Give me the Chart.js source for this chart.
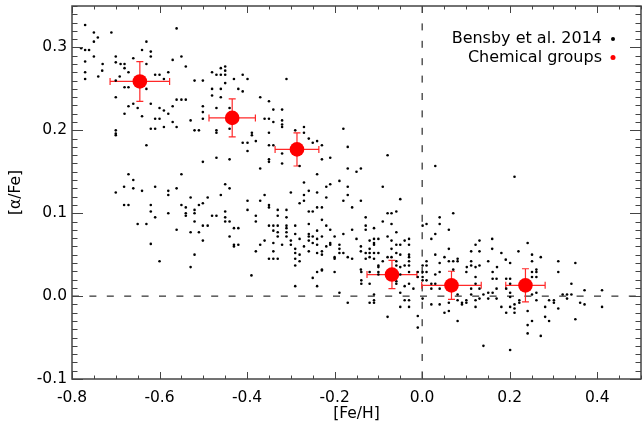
<!DOCTYPE html>
<html>
<head>
<meta charset="utf-8">
<script src="https://cdn.jsdelivr.net/npm/chart.js@4/dist/chart.umd.min.js"></script>
<style>
  body { margin: 0; background: #fff; }
  canvas { display: block; }
</style>
</head>
<body>
<canvas id="alphaChart" width="642" height="426"></canvas>
<script>
// axis ticks
const xTicks = [-0.8, -0.6, -0.4, -0.2, 0.0, 0.2, 0.4];
const yTicks = [-0.1, 0.0, 0.1, 0.2, 0.3];

// chemical groups (red) with errors
const groupFeH = [-0.645, -0.434, -0.286, -0.069, 0.067, 0.236];
const groupAlpha = [0.259, 0.215, 0.177, 0.026, 0.013, 0.013];
const groupFeHErr = [0.068, 0.053, 0.050, 0.057, 0.068, 0.045];
const groupAlphaErr = [0.024, 0.023, 0.020, 0.017, 0.017, 0.020];

// Bensby et al. 2014 stars, [Fe/H], [alpha/Fe]
const bensby = [
  [-0.770,0.327],[-0.750,0.318],[-0.741,0.312],[-0.750,0.307],[-0.710,0.318],[-0.779,0.299],[-0.770,0.297],[-0.761,0.297],
  [-0.750,0.289],[-0.770,0.283],[-0.730,0.280],[-0.731,0.272],[-0.770,0.270],[-0.740,0.265],[-0.770,0.262],[-0.700,0.289],
  [-0.700,0.282],[-0.689,0.280],[-0.680,0.280],[-0.680,0.275],[-0.671,0.270],[-0.691,0.265],[-0.700,0.260],[-0.680,0.252],
  [-0.671,0.252],[-0.700,0.240],[-0.660,0.287],[-0.640,0.297],[-0.630,0.307],[-0.620,0.295],[-0.620,0.289],[-0.630,0.280],
  [-0.610,0.267],[-0.600,0.267],[-0.590,0.262],[-0.580,0.270],[-0.570,0.285],[-0.561,0.323],[-0.630,0.250],[-0.620,0.232],
  [-0.660,0.232],[-0.671,0.229],[-0.650,0.227],[-0.680,0.220],[-0.640,0.217],[-0.600,0.227],[-0.590,0.224],[-0.610,0.214],
  [-0.600,0.214],[-0.570,0.229],[-0.561,0.237],[-0.580,0.220],[-0.570,0.210],[-0.590,0.204],[-0.620,0.202],[-0.610,0.202],
  [-0.561,0.204],[-0.700,0.200],[-0.700,0.196],
  [-0.550,0.289],[-0.540,0.277],[-0.520,0.260],[-0.501,0.260],[-0.480,0.270],[-0.470,0.267],[-0.460,0.275],[-0.460,0.267],
  [-0.450,0.277],[-0.450,0.272],[-0.450,0.267],[-0.450,0.257],[-0.430,0.262],[-0.410,0.267],[-0.399,0.262],[-0.310,0.262],
  [-0.480,0.250],[-0.460,0.250],[-0.480,0.242],[-0.460,0.240],[-0.420,0.250],[-0.410,0.247],[-0.370,0.240],[-0.550,0.237],
  [-0.540,0.237],[-0.501,0.229],[-0.470,0.227],[-0.440,0.227],[-0.501,0.222],[-0.501,0.214],[-0.529,0.212],[-0.350,0.235],
  [-0.340,0.225],[-0.320,0.225],[-0.360,0.214],[-0.350,0.214],[-0.340,0.210],[-0.320,0.212],[-0.320,0.207],[-0.320,0.204],
  [-0.520,0.200],[-0.510,0.200],[-0.470,0.200],[-0.470,0.197],[-0.440,0.202],[-0.389,0.197],[-0.350,0.197],[-0.270,0.204],
  [-0.270,0.197],[-0.290,0.200],[-0.180,0.202],
  [-0.700,0.194],[-0.630,0.182],[-0.671,0.147],[-0.660,0.140],[-0.681,0.132],[-0.660,0.130],[-0.700,0.125],[-0.640,0.127],
  [-0.610,0.132],[-0.580,0.127],[-0.580,0.122],[-0.561,0.130],[-0.681,0.110],[-0.671,0.110],[-0.620,0.110],[-0.620,0.102],
  [-0.610,0.095],[-0.580,0.100],[-0.650,0.087],[-0.630,0.087],[-0.561,0.080],[-0.620,0.063],[-0.600,0.042],
  [-0.550,0.147],[-0.501,0.162],[-0.470,0.167],[-0.440,0.165],[-0.410,0.185],[-0.399,0.185],[-0.380,0.187],[-0.399,0.175],
  [-0.389,0.194],[-0.350,0.182],[-0.340,0.182],[-0.320,0.172],[-0.350,0.165],[-0.350,0.162],[-0.370,0.154],[-0.320,0.160],
  [-0.280,0.157],[-0.259,0.190],[-0.250,0.185],[-0.240,0.187],[-0.229,0.182],[-0.229,0.165],[-0.240,0.147],[-0.270,0.137],
  [-0.219,0.132],[-0.259,0.127],[-0.240,0.125],[-0.219,0.119],[-0.270,0.122],[-0.300,0.125],[-0.270,0.115],[-0.280,0.112],
  [-0.450,0.135],[-0.440,0.130],[-0.460,0.122],[-0.490,0.119],[-0.529,0.119],[-0.550,0.110],[-0.540,0.107],[-0.540,0.100],
  [-0.540,0.097],[-0.520,0.104],[-0.510,0.110],[-0.501,0.112],[-0.520,0.100],[-0.520,0.090],[-0.480,0.097],[-0.470,0.097],
  [-0.450,0.102],[-0.450,0.095],[-0.450,0.090],[-0.440,0.090],[-0.501,0.085],[-0.490,0.085],[-0.430,0.082],[-0.420,0.082],
  [-0.529,0.077],[-0.510,0.077],[-0.501,0.067],[-0.440,0.072],[-0.430,0.062],[-0.430,0.060],[-0.420,0.062],[-0.520,0.050],
  [-0.529,0.035],[-0.399,0.115],[-0.399,0.104],[-0.370,0.115],[-0.360,0.122],[-0.350,0.110],[-0.350,0.107],[-0.380,0.097],
  [-0.380,0.090],[-0.330,0.104],[-0.330,0.097],[-0.310,0.104],[-0.310,0.095],[-0.350,0.085],[-0.340,0.085],[-0.330,0.085],
  [-0.340,0.079],[-0.330,0.077],[-0.330,0.072],[-0.310,0.085],[-0.310,0.082],[-0.310,0.077],[-0.310,0.072],[-0.290,0.085],
  [-0.290,0.075],[-0.259,0.102],[-0.250,0.102],[-0.240,0.107],[-0.229,0.107],[-0.259,0.087],[-0.229,0.092],[-0.219,0.085],
  [-0.240,0.079],[-0.259,0.075],[-0.259,0.072],[-0.250,0.072],[-0.229,0.072],[-0.240,0.069],[-0.259,0.067],[-0.300,0.067],
  [-0.280,0.069],[-0.370,0.062],[-0.360,0.067],[-0.340,0.064],[-0.320,0.062],[-0.300,0.062],[-0.270,0.060],[-0.250,0.064],
  [-0.259,0.054],[-0.240,0.062],[-0.240,0.052],[-0.229,0.054],[-0.229,0.050],[-0.219,0.060],[-0.380,0.054],[-0.340,0.054],
  [-0.290,0.057],[-0.290,0.052],[-0.280,0.050],[-0.290,0.045],[-0.280,0.042],[-0.290,0.037],[-0.350,0.045],[-0.340,0.045],
  [-0.330,0.045],[-0.229,0.032],
  [-0.170,0.180],[-0.210,0.167],[-0.079,0.170],[-0.170,0.154],[-0.150,0.150],[-0.140,0.154],[-0.189,0.139],[-0.210,0.135],
  [-0.170,0.132],[-0.090,0.132],[-0.170,0.122],[-0.180,0.115],[-0.140,0.115],[-0.160,0.107],[-0.050,0.117],[0.030,0.157],
  [-0.079,0.100],[-0.070,0.100],[-0.059,0.102],[-0.129,0.095],[-0.090,0.090],[-0.129,0.085],[-0.129,0.080],[-0.110,0.082],
  [-0.070,0.087],[-0.160,0.080],[-0.210,0.080],[-0.059,0.077],[-0.200,0.072],[-0.180,0.075],[-0.150,0.069],[-0.120,0.067],
  [-0.110,0.069],[-0.100,0.069],[-0.079,0.072],[-0.070,0.067],[-0.210,0.064],[-0.210,0.062],[-0.189,0.062],[-0.189,0.057],
  [-0.189,0.052],[-0.180,0.052],[-0.170,0.047],[-0.140,0.060],[-0.140,0.054],[-0.129,0.052],[-0.129,0.045],[-0.120,0.057],
  [-0.120,0.052],[-0.120,0.047],[-0.110,0.064],[-0.110,0.062],[-0.110,0.052],[-0.110,0.045],[-0.100,0.052],[-0.090,0.042],
  [-0.079,0.047],[-0.070,0.047],[-0.070,0.057],[-0.059,0.062],[-0.050,0.062],[-0.059,0.052],[-0.050,0.050],[-0.059,0.042],
  [-0.059,0.037],[-0.040,0.067],[-0.030,0.069],[-0.030,0.062],[-0.030,0.050],[-0.030,0.047],[-0.030,0.042],[-0.030,0.037],
  [-0.040,0.037],[-0.050,0.035],[-0.200,0.047],[-0.200,0.045],[-0.100,0.037],[-0.100,0.035],[-0.140,0.032],[-0.160,0.045],
  [0.001,0.085],[0.010,0.087],[0.040,0.095],[0.040,0.087],[0.071,0.100],[0.061,0.080],[0.030,0.075],[0.021,0.069],
  [0.122,0.062],[0.131,0.067],[0.112,0.054],[0.061,0.057],[0.030,0.050],[0.051,0.047],[0.061,0.042],[0.071,0.042],
  [0.081,0.045],[0.081,0.042],[0.040,0.040],[0.010,0.042],[0.010,0.037],[0.001,0.037],[0.112,0.042],[0.112,0.037],
  [0.102,0.035],[0.122,0.035],[0.071,0.032],
  [0.211,0.144],[0.160,0.069],[0.241,0.064],[0.131,0.054],[0.160,0.057],[0.181,0.052],[0.220,0.054],[0.251,0.050],
  [0.271,0.047],[0.191,0.044],[0.201,0.040],[0.151,0.042],[0.131,0.037],[0.171,0.035],[0.251,0.042],[0.311,0.042],
  [0.350,0.040],[0.261,0.032],
  [-0.390,0.025],[-0.290,0.012],[-0.250,0.022],[-0.240,0.029],[-0.240,0.012],[-0.229,0.031],
  [-0.139,0.029],[-0.139,0.019],[-0.139,0.015],[-0.120,0.029],[-0.100,0.029],[-0.100,0.026],[-0.189,0.004],[-0.170,-0.008],
  [-0.120,0.015],[-0.110,0.002],[-0.120,-0.008],[-0.110,-0.008],[-0.110,-0.005],[-0.079,-0.025],[-0.059,0.018],[-0.059,0.015],
  [-0.050,0.026],[-0.050,0.004],[-0.040,-0.005],[-0.050,-0.013],[-0.030,0.029],[-0.030,0.015],[-0.030,-0.005],[-0.030,-0.013],
  [-0.040,0.012],[-0.020,0.009],[-0.010,0.029],[-0.010,0.023],[-0.010,-0.024],[-0.010,-0.038],[0.001,0.029],[0.001,0.023],
  [0.001,0.019],[0.001,-0.003],[0.010,0.029],[0.010,0.019],[0.021,0.015],[0.021,0.009],[0.021,-0.010],[0.030,0.026],
  [0.030,0.015],[0.040,0.029],[0.040,0.009],[0.040,-0.010],[0.051,-0.020],[0.061,-0.008],[0.061,-0.018],[0.081,-0.030],
  [0.081,-0.005],[0.091,-0.008],[0.091,-0.010],[0.101,-0.005],[0.101,-0.008],[0.101,0.029],[0.112,0.009],[0.112,0.002],
  [0.122,0.023],[0.122,0.015],[0.122,-0.005],[0.122,-0.013],[0.081,0.002],[-0.200,0.029],
  [0.161,0.029],[0.161,0.021],[0.170,0.021],[0.170,0.009],[0.161,0.004],[0.151,0.004],[0.131,0.009],[0.131,-0.003],
  [0.140,0.002],[0.151,-0.003],[0.170,-0.003],[0.192,0.021],[0.201,0.021],[0.201,0.015],[0.192,0.009],[0.201,0.004],
  [0.201,-0.001],[0.181,-0.013],[0.192,-0.020],[0.201,-0.013],[0.211,-0.010],[0.211,-0.015],[0.211,-0.020],[0.222,-0.008],
  [0.222,-0.005],[0.251,0.029],[0.251,0.023],[0.261,0.029],[0.261,0.023],[0.251,0.002],[0.261,0.004],[0.261,-0.005],
  [0.241,-0.018],[0.251,-0.030],[0.241,-0.035],[0.241,-0.045],[0.271,-0.048],[0.281,-0.013],[0.281,-0.025],[0.290,-0.005],
  [0.290,-0.030],[0.301,-0.005],[0.301,-0.008],[0.311,0.029],[0.311,-0.015],[0.321,0.002],[0.331,0.002],[0.331,-0.003],
  [0.341,0.015],[0.341,0.002],[0.361,-0.008],[0.371,0.007],[0.371,-0.010],[0.350,-0.028],[0.411,0.007],[0.411,-0.013],
  [0.140,-0.060],[0.201,-0.065]
];

const axisFont = { family: 'DejaVu Sans', size: 15.5 };
const frameColor = '#444';

const framePlugin = {
  id: 'framePlugin',
  beforeDatasetsDraw(chart) {
    const { ctx, chartArea: a, scales: { x, y } } = chart;
    ctx.save();
    // dashed zero lines
    ctx.strokeStyle = '#000';
    ctx.lineWidth = 1;
    ctx.setLineDash([7, 10.4]);
    const x0 = x.getPixelForValue(0);
    const y0 = y.getPixelForValue(0);
    ctx.beginPath();
    ctx.moveTo(a.left, y0); ctx.lineTo(a.right, y0);
    ctx.moveTo(x0, a.top); ctx.lineTo(x0, a.bottom);
    ctx.stroke();
    ctx.setLineDash([]);
    // error bars of the chemical groups
    ctx.strokeStyle = 'rgb(255,40,40)';
    ctx.lineWidth = 1.2;
    groupFeH.forEach((fe, i) => {
      const cx = x.getPixelForValue(fe);
      const cy = y.getPixelForValue(groupAlpha[i]);
      const xl = x.getPixelForValue(fe - groupFeHErr[i]);
      const xr = x.getPixelForValue(fe + groupFeHErr[i]);
      const yt = y.getPixelForValue(groupAlpha[i] + groupAlphaErr[i]);
      const yb = y.getPixelForValue(groupAlpha[i] - groupAlphaErr[i]);
      ctx.beginPath();
      ctx.moveTo(xl, cy); ctx.lineTo(xr, cy);
      ctx.moveTo(xl, cy - 3.5); ctx.lineTo(xl, cy + 3.5);
      ctx.moveTo(xr, cy - 3.5); ctx.lineTo(xr, cy + 3.5);
      ctx.moveTo(cx, yt); ctx.lineTo(cx, yb);
      ctx.moveTo(cx - 3.5, yt); ctx.lineTo(cx + 3.5, yt);
      ctx.moveTo(cx - 3.5, yb); ctx.lineTo(cx + 3.5, yb);
      ctx.stroke();
    });
    ctx.restore();
  },
  afterDraw(chart) {
    const { ctx, chartArea: a, scales: { x, y } } = chart;
    ctx.save();
    ctx.strokeStyle = frameColor;
    ctx.lineWidth = 1.5;
    ctx.strokeRect(a.left, a.top, a.right - a.left, a.bottom - a.top);
    ctx.lineWidth = 1;
    ctx.beginPath();
    // x ticks every 0.05, inward on bottom and top
    for (let k = -16; k <= 10; k++) {
      const px = Math.round(x.getPixelForValue(k * 0.05)) + 0.5;
      const len = k % 4 === 0 ? 7 : 3.5;
      ctx.moveTo(px, a.bottom); ctx.lineTo(px, a.bottom - len);
      ctx.moveTo(px, a.top); ctx.lineTo(px, a.top + len);
    }
    // y ticks every 0.01, inward on left and right
    for (let k = -10; k <= 35; k++) {
      const py = Math.round(y.getPixelForValue(k * 0.01)) + 0.5;
      const len = k % 10 === 0 ? 11 : 5.5;
      ctx.moveTo(a.left, py); ctx.lineTo(a.left + len, py);
      ctx.moveTo(a.right, py); ctx.lineTo(a.right - len, py);
    }
    ctx.stroke();

    // legend, marker to the right of the text
    ctx.font = '16px "DejaVu Sans"';
    ctx.textAlign = 'right';
    ctx.textBaseline = 'middle';
    ctx.fillStyle = '#000';
    ctx.fillText(chart.data.datasets[1].label, 602, 39);
    ctx.fillText(chart.data.datasets[0].label, 602, 57.5);
    ctx.beginPath(); ctx.arc(613, 39, 2, 0, Math.PI * 2); ctx.fill();
    ctx.fillStyle = 'red';
    ctx.beginPath(); ctx.arc(613, 57.5, 2.5, 0, Math.PI * 2); ctx.fill();
    ctx.restore();
  }
};

const ctx = document.getElementById('alphaChart').getContext('2d');
const alphaChart = new Chart(ctx, {
  type: 'scatter',
  data: {
    datasets: [{
      label: 'Chemical groups',
      data: groupFeH.map((fe, i) => ({ x: fe, y: groupAlpha[i] })),
      backgroundColor: 'rgb(255,0,0)',
      borderWidth: 0,
      pointRadius: 7.3,
      pointHoverRadius: 7.3,
      order: 0
    }, {
      label: 'Bensby et al. 2014',
      data: bensby.map(p => ({ x: p[0], y: p[1] })),
      backgroundColor: '#000',
      borderWidth: 0,
      pointRadius: 1.3,
      pointHoverRadius: 1.3,
      order: 1
    }]
  },
  options: {
    responsive: false,
    animation: false,
    layout: { autoPadding: false, padding: { top: 6, right: 1, left: 0, bottom: 0 } },
    plugins: {
      legend: { display: false },
      tooltip: { enabled: false }
    },
    scales: {
      x: {
        type: 'linear',
        min: -0.8,
        max: 0.5,
        grid: { display: false, drawTicks: false },
        border: { display: false },
        afterBuildTicks: axis => { axis.ticks = xTicks.map(v => ({ value: v })); },
        afterFit: axis => {
          axis.height = 47;
          axis.paddingLeft = 0;
          axis.paddingRight = 0;
        },
        ticks: {
          font: axisFont,
          color: '#000',
          padding: 10,
          maxRotation: 0,
          autoSkip: false,
          callback: v => v.toFixed(1)
        },
        title: {
          display: true,
          text: '[Fe/H]',
          font: axisFont,
          color: '#000',
          padding: { top: 0, bottom: 3 }
        }
      },
      y: {
        type: 'linear',
        min: -0.1,
        max: 0.35,
        grid: { display: false, drawTicks: false },
        border: { display: false },
        afterBuildTicks: axis => { axis.ticks = yTicks.map(v => ({ value: v })); },
        afterFit: axis => {
          axis.width = 72;
          axis.paddingTop = 0;
          axis.paddingBottom = 0;
        },
        ticks: {
          font: axisFont,
          color: '#000',
          padding: 5,
          autoSkip: false,
          callback: v => v.toFixed(1)
        },
        title: {
          display: true,
          text: '[α/Fe]',
          font: axisFont,
          color: '#000',
          padding: { top: 7, bottom: 0 }
        }
      }
    }
  },
  plugins: [framePlugin]
});
</script>
</body>
</html>
